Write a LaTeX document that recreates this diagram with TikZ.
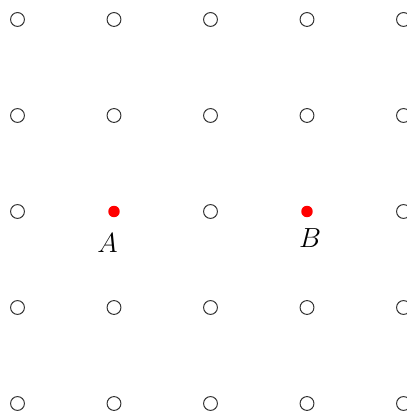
\documentclass[tikz,border=0pt]{standalone}
\begin{document}
\begin{tikzpicture}[x=0.75pt,y=0.75pt,
  gridpt/.style={circle,draw=black!80,line width=0.75pt,minimum size=10.4pt,inner sep=0pt},
  redpt/.style={circle,fill=red,minimum size=8.6pt,inner sep=0pt},
  lbl/.style={font=\fontsize{20.5}{24}\selectfont,inner sep=0pt}]
\useasboundingbox (0,0) rectangle (406,416);
\foreach \i in {0,...,4}{
  \foreach \j in {0,...,4}{
    \pgfmathsetmacro{\xx}{17.5+96.5*\i}
    \pgfmathsetmacro{\yy}{416-(19.5+96*\j)}
    \ifnum\j=2
      \ifnum\i=1
      \else\ifnum\i=3
      \else
        \node[gridpt] (c-\i-\j) at (\xx,\yy) {};
      \fi\fi
    \else
      \node[gridpt] (c-\i-\j) at (\xx,\yy) {};
    \fi
  }
}
\node[redpt] (pA) at (114,416-211.5) {};
\node[redpt] (pB) at (307,416-211.5) {};
\node[lbl] (lA) at (107.5,416-243) {$A$};
\node[lbl] (lB) at (310,416-238) {$B$};
\end{tikzpicture}
\end{document}
